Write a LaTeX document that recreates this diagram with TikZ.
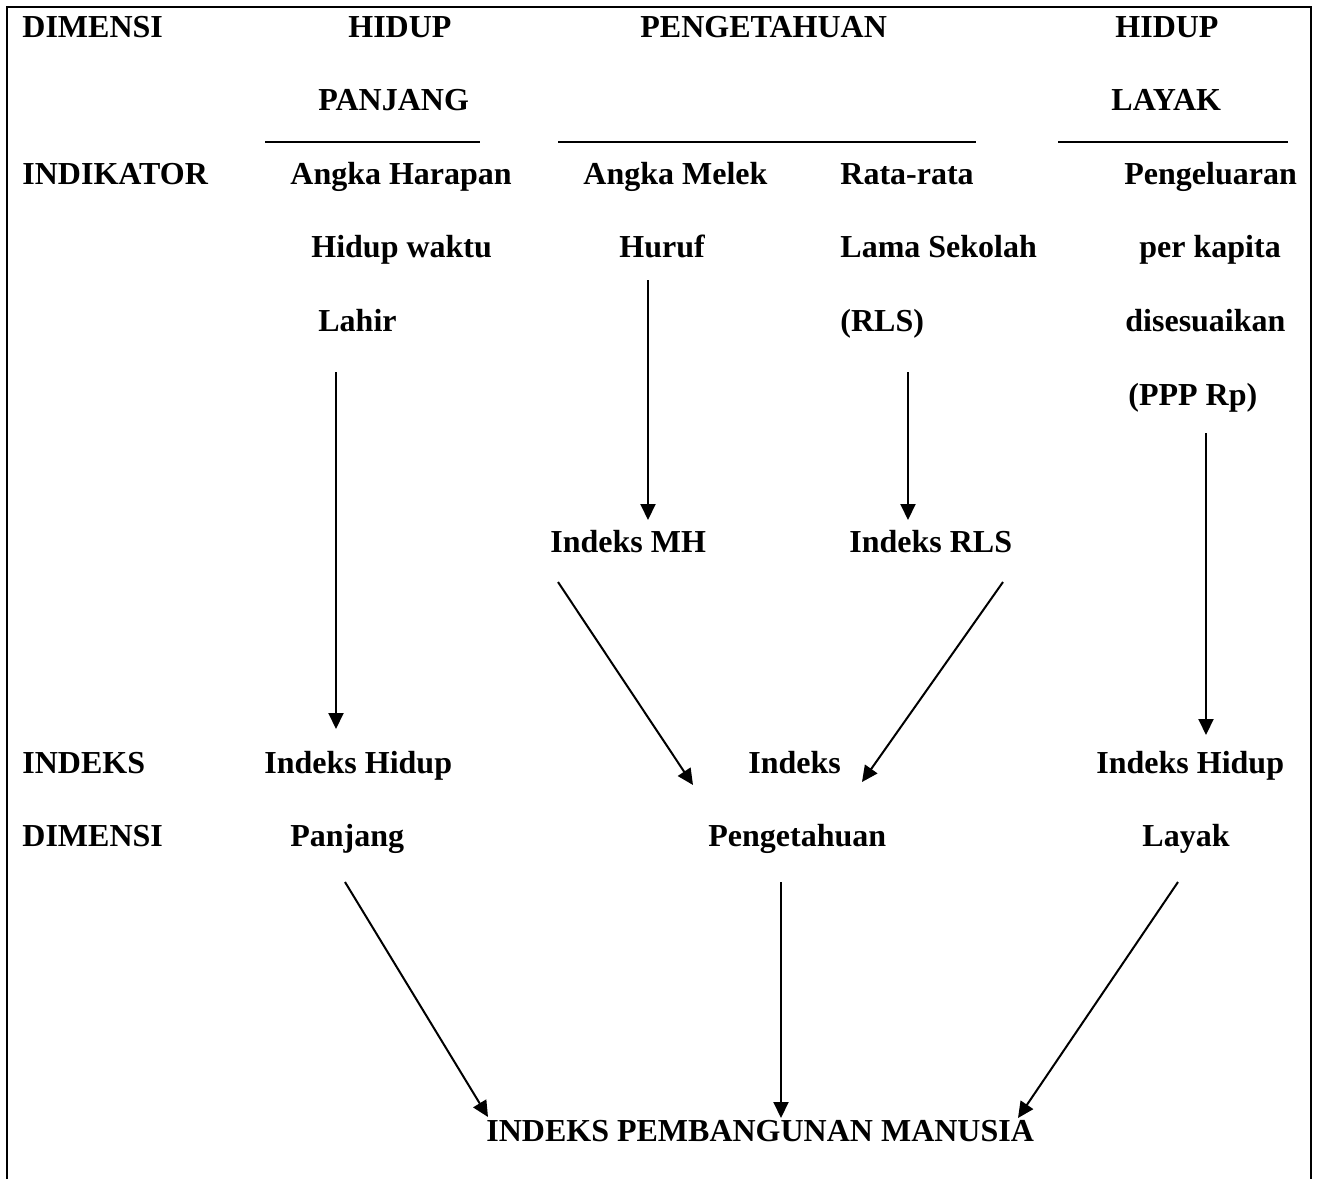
\documentclass[tikz,border=0pt]{standalone}
\usepackage{fontspec}
\setmainfont{Liberation Serif}
\usepackage{tikz}
\usetikzlibrary{arrows.meta,calc}

\begin{document}
\begin{tikzpicture}[>={Triangle[length=8pt,width=7.5pt]},x=0.5pt,y=-0.5pt]
\tikzset{
				lbl/.style={
					anchor=base west,
					inner sep=0pt,
					font=\fontsize{16}{19}\selectfont\bfseries
				},
				arr/.style={
					->,
					line width=1pt
				}
			}
			\useasboundingbox (0,0) rectangle (1318,1179);
			\draw[line width=1pt] (7,1179) -- (7,7) -- (1311,7) -- (1311,1179);

			% dimensi
			\node[lbl] (dim1) at (22,37) {DIMENSI};
			\node[lbl] (hp1) at (348,37) {HIDUP};
			\node[lbl] (peng) at (640,37) {PENGETAHUAN};
			\node[lbl] (hl1) at (1115,37) {HIDUP};
			\node[lbl] (hp2) at (318,110.6) {PANJANG};
			\node[lbl] (hl2) at (1111,110.6) {LAYAK};
			\draw[line width=1pt] (265,142) -- (480,142);
			\draw[line width=1pt] (558,142) -- (976,142);
			\draw[line width=1pt] (1058,142) -- (1288,142);

			% indikator
			\node[lbl] (ind) at (22,184.2) {INDIKATOR};
			\node[lbl] (ahh1) at (290,184.2) {Angka Harapan};
			\node[lbl] (ahh2) at (311,257.8) {Hidup waktu};
			\node[lbl] (ahh3) at (318,331.4) {Lahir};
			\node[lbl] (amh1) at (583,184.2) {Angka Melek};
			\node[lbl] (amh2) at (619,257.8) {Huruf};
			\node[lbl] (rls1) at (840,184.2) {Rata-rata};
			\node[lbl] (rls2) at (840,257.8) {Lama Sekolah};
			\node[lbl] (rls3) at (840,331.4) {(RLS)};
			\node[lbl] (pk1) at (1124,184.2) {Pengeluaran};
			\node[lbl] (pk2) at (1139,257.8) {per kapita};
			\node[lbl] (pk3) at (1125,331.4) {disesuaikan};
			\node[lbl] (pk4) at (1128,405) {(PPP Rp)};
			\node[lbl] (imh) at (550,552.2) {Indeks MH};
			\node[lbl] (irls) at (849,552.2) {Indeks RLS};

			% indeks dimensi
			\node[lbl] (idx1) at (22,773) {INDEKS};
			\node[lbl] (idx2) at (22,846.6) {DIMENSI};
			\node[lbl] (ihp1) at (264,773) {Indeks Hidup};
			\node[lbl] (ihp2) at (290,846.6) {Panjang};
			\node[lbl] (ip1) at (748,773) {Indeks};
			\node[lbl] (ip2) at (708,846.6) {Pengetahuan};
			\node[lbl] (ihl1) at (1096,773) {Indeks Hidup};
			\node[lbl] (ihl2) at (1142,846.6) {Layak};
			\node[lbl] (ipm) at (486,1141) {INDEKS PEMBANGUNAN MANUSIA};

			\draw[arr] ([xshift=9pt,yshift=-20.3pt]ahh3.base west) -- ([xshift=36pt,yshift=22pt]ihp1.base west);
			\draw[arr] ([xshift=14.5pt,yshift=-11.1pt]amh2.base west) -- ([xshift=49pt,yshift=16.1pt]imh.base west);
			\draw[arr] ([xshift=34pt,yshift=-20.3pt]rls3.base west) -- ([xshift=29.5pt,yshift=16.1pt]irls.base west);
			\draw[arr] ([xshift=39pt,yshift=-14pt]pk4.base west) -- ([xshift=55pt,yshift=19pt]ihl1.base west);
			\draw[arr] ([xshift=4pt,yshift=-14.9pt]imh.base west) -- ([xshift=-27.5pt,yshift=-6pt]ip1.base west);
			\draw[arr] ([xshift=77pt,yshift=-14.9pt]irls.base west) -- ([xshift=57pt,yshift=-4.5pt]ip1.base west);
			\draw[arr] ([xshift=27.5pt,yshift=-17.7pt]ihp2.base west) -- ([xshift=1pt,yshift=12pt]ipm.base west);
			\draw[arr] ([xshift=36.5pt,yshift=-17.7pt]ip2.base west) -- ([xshift=147.5pt,yshift=11.5pt]ipm.base west);
			\draw[arr] ([xshift=18pt,yshift=-17.7pt]ihl2.base west) -- ([xshift=266pt,yshift=11.5pt]ipm.base west);
\end{tikzpicture}
\end{document}
